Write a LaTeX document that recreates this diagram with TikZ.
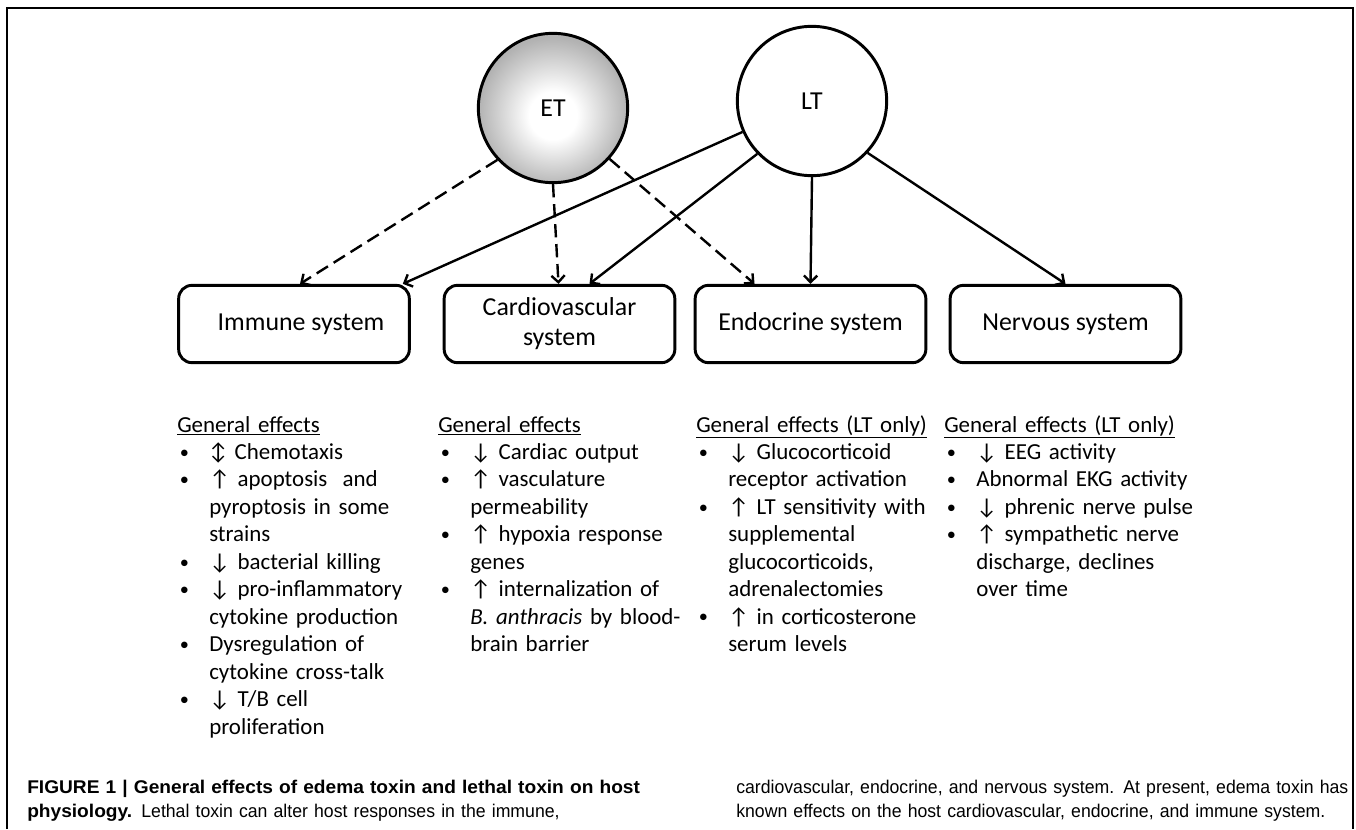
\documentclass[tikz,border=0pt]{standalone}
\usepackage{fontspec}
\setmainfont{Carlito}
\newfontfamily\capfont[FakeStretch=0.96]{Liberation Sans}
\newfontfamily\capbold[FakeStretch=1.04]{Liberation Sans}
\usetikzlibrary{arrows.meta,calc}

\pgfdeclareradialshading{etshade}{\pgfpoint{0bp}{-3bp}}{color(0bp)=(white); color(8bp)=(white); color(25bp)=(black!30); color(50bp)=(black!30)}

\newcommand{\bul}{\makebox[24pt][l]{\hspace{2pt}\raisebox{1pt}{\scalebox{0.8}{\textbullet}}}}
\newcommand{\ind}{\hspace*{24pt}}
\newcommand{\arrup}{↑}
\newcommand{\arrdn}{↓}
\newcommand{\arrud}{↕}
\newcommand{\capb}[1]{{\capbold\bfseries #1}}

\begin{document}
\begin{tikzpicture}
    [
        x=0.75pt, y=-0.75pt,
        toxin/.style={circle, draw, line width=2.2pt, minimum size=112pt, inner sep=0pt, font=\fontsize{19.4}{22.5}\selectfont},
        system/.style={rectangle, rounded corners=10pt, draw, line width=2.2pt, minimum width=173pt, minimum height=58pt, align=center, font=\fontsize{19.4}{22.5}\selectfont},
        effects/.style={anchor=base west, text width=200pt, align=left, inner sep=0pt, font=\fontsize{17.2}{20.6}\selectfont},
        caption/.style={anchor=base west, text width=520pt, align=left, inner sep=0pt, font=\capfont\fontsize{13.8}{18}\selectfont},
        ltedge/.style={line width=1.8pt, -{Straight Barb[length=5pt,width=10pt]}},
        etedge/.style={ltedge, dash pattern=on 10pt off 5pt},
    ]

    \useasboundingbox (0,0) rectangle (1356,829);
    \draw [line width=1.5pt] (7,829) -- (7,8) -- (1353,8) -- (1353,829);

    % toxins
    \node (ET) at (553,108) [toxin, shading=etshade] {ET};
    \node (LT) at (812,101) [toxin] {LT};

    % systems
    \node (imm)    at (294,324)    [system] {\hspace*{10.5pt}Immune system};
    \node (cardio) at (559.5,324)  [system] {Cardiovascular\\system};
    \node (endo)   at (810.5,324)  [system] {Endocrine system};
    \node (nerv)   at (1065.5,324) [system] {Nervous system};

    \path
    (ET.223) edge [etedge] ($(imm.north)+(6,0)$)
    (ET.270) edge [etedge] ($(cardio.north)+(-1,0)$)
    (ET.318) edge [etedge] ($(endo.north)+(-56,0)$);

    \path
    (LT.204) edge [ltedge] ($(imm.north east)+(-8,0)$)
    (LT.224) edge [ltedge] ($(cardio.north)+(30,0)$)
    (LT.270) edge [ltedge] (endo.north)
    (LT.317) edge [ltedge] (nerv.north);

    % effects
    \node (immfx) at (177,432) [effects] {\underline{General effects}\\
        \bul\arrud{} Chemotaxis\\
        \bul\arrup{} apoptosis\ \ and\\
        \ind pyroptosis in some\\
        \ind strains\\
        \bul\arrdn{} bacterial killing\\
        \bul\arrdn{} pro-inflammatory\\
        \ind cytokine production\\
        \bul Dysregulation of\\
        \ind cytokine cross-talk\\
        \bul\arrdn{} T/B cell\\
        \ind proliferation};
    \node (cardiofx) at (438,432) [effects] {\underline{General effects}\\
        \bul\arrdn{} Cardiac output\\
        \bul\arrup{} vasculature\\
        \ind permeability\\
        \bul\arrup{} hypoxia response\\
        \ind genes\\
        \bul\arrup{} internalization of\\
        \ind\textit{B. anthracis} by blood-\\
        \ind brain barrier};
    \node (endofx) at (696,432) [effects] {\underline{General effects (LT only)}\\
        \bul\arrdn{} Glucocorticoid\\
        \ind receptor activation\\
        \bul\arrup{} LT sensitivity with\\
        \ind supplemental\\
        \ind glucocorticoids,\\
        \ind adrenalectomies\\
        \bul\arrup{} in corticosterone\\
        \ind serum levels};
    \node (nervfx) at (944,432) [effects] {\underline{General effects (LT only)}\\
        \bul\arrdn{} EEG activity\\
        \bul Abnormal EKG activity\\
        \bul\arrdn{} phrenic nerve pulse\\
        \bul\arrup{} sympathetic nerve\\
        \ind discharge, declines\\
        \ind over time};

    % caption
    \node (capa) at (27,793) [caption] {\capb{FIGURE 1 | General effects of edema toxin and lethal toxin on host}\\
        \capb{physiology.} Lethal toxin can alter host responses in the immune,};
    \node (capc) at (736,793) [caption] {cardiovascular, endocrine, and nervous system. At present, edema toxin has\\
        known effects on the host cardiovascular, endocrine, and immune system.};

\end{tikzpicture}
\end{document}
